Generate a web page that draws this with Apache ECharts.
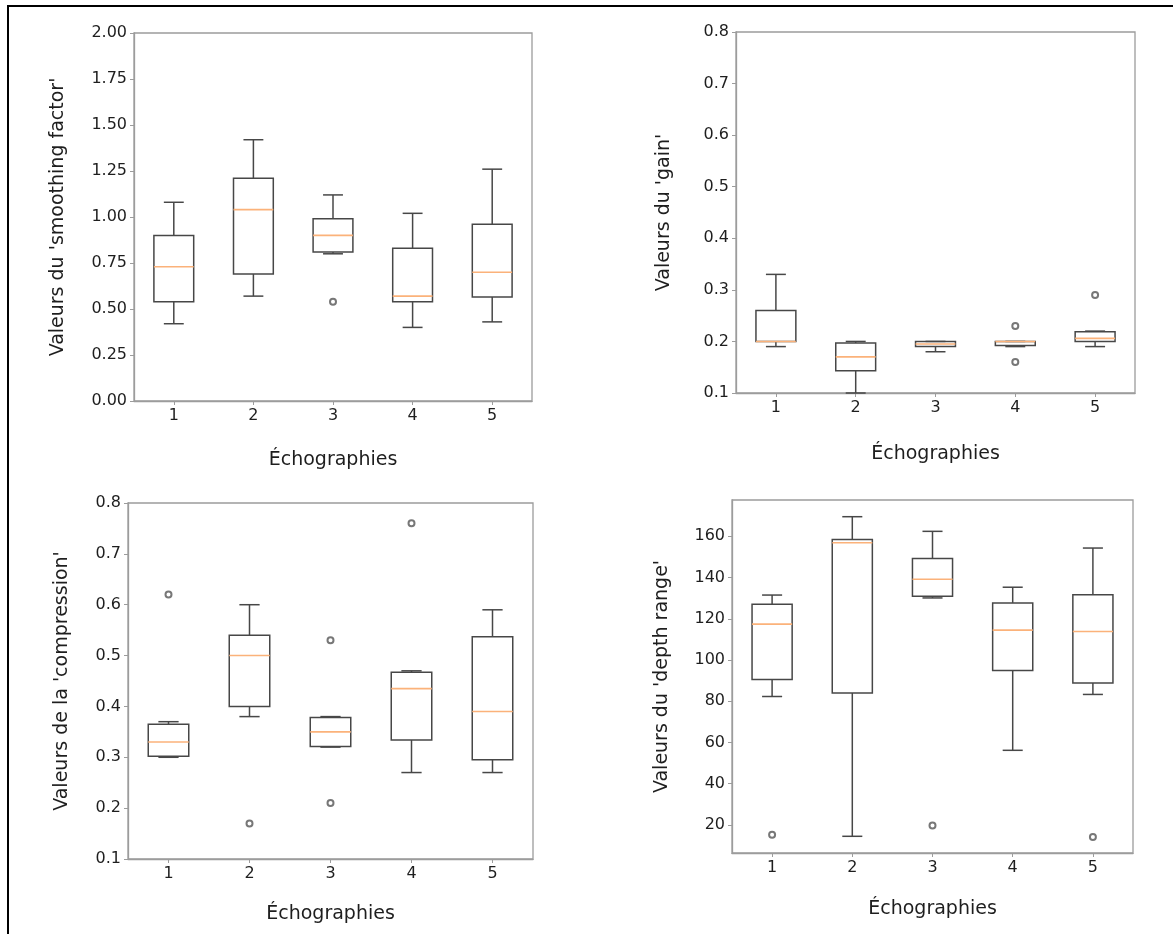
<!DOCTYPE html>
<html>
<head>
<meta charset="utf-8">
<title>Échographies</title>
<script src="https://cdn.jsdelivr.net/npm/echarts@6/dist/echarts.min.js"></script>
<style>
  html, body { margin: 0; padding: 0; background: #fff; overflow: hidden; }
  #frame { position: absolute; left: 7px; top: 5px; width: 1300px; height: 1100px; border: 2px solid #000; }
  #chart { position: absolute; left: 0; top: 0; width: 1173px; height: 934px; }
</style>
</head>
<body>
<div id="frame"></div>
<div id="chart"></div>
<script>
// categories (échographies)
const categories = ['1', '2', '3', '4', '5']

// five-number summaries per box: [whisker low, Q1, median, Q3, whisker high]
const smoothingBoxes = [
  [0.42, 0.54, 0.73, 0.90, 1.08],
  [0.57, 0.69, 1.04, 1.21, 1.42],
  [0.80, 0.81, 0.90, 0.99, 1.12],
  [0.40, 0.54, 0.57, 0.83, 1.02],
  [0.43, 0.565, 0.70, 0.96, 1.26]
]
const smoothingOutliers = [['3', 0.54]]

const gainBoxes = [
  [0.19, 0.20, 0.20, 0.26, 0.33],
  [0.10, 0.143, 0.17, 0.197, 0.20],
  [0.18, 0.19, 0.195, 0.20, 0.20],
  [0.19, 0.192, 0.20, 0.20, 0.20],
  [0.19, 0.20, 0.206, 0.219, 0.22]
]
const gainOutliers = [['4', 0.23], ['4', 0.16], ['5', 0.29]]

const compressionBoxes = [
  [0.30, 0.302, 0.33, 0.365, 0.37],
  [0.38, 0.40, 0.50, 0.54, 0.60],
  [0.32, 0.321, 0.35, 0.378, 0.38],
  [0.27, 0.334, 0.435, 0.467, 0.47],
  [0.27, 0.295, 0.39, 0.537, 0.59]
]
const compressionOutliers = [['1', 0.62], ['2', 0.17], ['3', 0.53], ['3', 0.21], ['4', 0.76]]

const depthBoxes = [
  [82.3, 90.6, 117.4, 127.1, 131.5],
  [14.5, 84.0, 156.9, 158.4, 169.5],
  [130.1, 130.9, 139.2, 149.2, 162.4],
  [56.2, 94.9, 114.5, 127.7, 135.3],
  [83.3, 88.8, 113.8, 131.7, 154.3]
]
const depthOutliers = [['1', 15.3], ['3', 19.7], ['5', 14.2]]

// tick labels
const depthTicks = [20, 40, 60, 80, 100, 120, 140, 160]

const FONT = 'DejaVu Sans'
const TEXT = '#1e1e1e'
const FRAME = '#9c9c9c'
const BOXLINE = '#474747'
const MEDIAN = '#fbb27a'

function renderBox(params, api) {
  const x = api.value(0)
  const low = api.coord([x, api.value(1)])
  const q1 = api.coord([x, api.value(2)])
  const med = api.coord([x, api.value(3)])
  const q3 = api.coord([x, api.value(4)])
  const high = api.coord([x, api.value(5)])
  const half = api.size([1, 0])[0] * 0.25
  const cap = half / 2
  const cx = low[0]
  const lineStyle = { stroke: BOXLINE, lineWidth: 1.5, fill: null }
  const line = (x1, y1, x2, y2, style) => ({
    type: 'line',
    shape: { x1, y1, x2, y2 },
    style: style || lineStyle
  })
  return {
    type: 'group',
    children: [
      line(cx, low[1], cx, q1[1]),
      line(cx, q3[1], cx, high[1]),
      line(cx - cap, low[1], cx + cap, low[1]),
      line(cx - cap, high[1], cx + cap, high[1]),
      {
        type: 'rect',
        shape: { x: cx - half, y: q3[1], width: half * 2, height: q1[1] - q3[1] },
        style: lineStyle
      },
      line(cx - half, med[1], cx + half, med[1], { stroke: MEDIAN, lineWidth: 1.6 })
    ]
  }
}

const panels = [
  { grid: { left: 134, top: 33, width: 398, height: 368 }, name: "Valeurs du 'smoothing factor'",
    yMin: 0, yMax: 2, interval: 0.25, digits: 2, boxes: smoothingBoxes, outliers: smoothingOutliers,
    xGap: 50, yGap: 66 },
  { grid: { left: 736, top: 32, width: 399, height: 361 }, name: "Valeurs du 'gain'",
    yMin: 0.1, yMax: 0.8, interval: 0.1, digits: 1, boxes: gainBoxes, outliers: gainOutliers,
    xGap: 52, yGap: 62 },
  { grid: { left: 128, top: 503, width: 405, height: 356 }, name: "Valeurs de la 'compression'",
    yMin: 0.1, yMax: 0.8, interval: 0.1, digits: 1, boxes: compressionBoxes, outliers: compressionOutliers,
    xGap: 46, yGap: 56 },
  { grid: { left: 732, top: 500, width: 401, height: 353 }, name: "Valeurs du 'depth range'",
    yMin: 6.4, yMax: 177.6, ticks: depthTicks, digits: 0, boxes: depthBoxes, outliers: depthOutliers,
    xGap: 47, yGap: 60 }
]

const chart = echarts.init(document.getElementById('chart'), null, { renderer: 'canvas' })

const option = {
  animation: false,
  textStyle: { fontFamily: FONT },
  grid: panels.map(p => Object.assign({ show: true, borderColor: FRAME, borderWidth: 1.3, backgroundColor: '#fff' }, p.grid)),
  xAxis: panels.map((p, i) => ({
    type: 'category',
    gridIndex: i,
    data: categories,
    boundaryGap: true,
    name: 'Échographies',
    nameLocation: 'middle',
    nameGap: p.xGap,
    nameTextStyle: { fontFamily: FONT, fontSize: 19, color: TEXT },
    axisLine: { show: true, lineStyle: { color: FRAME, width: 1.3 } },
    axisTick: { show: true, alignWithLabel: true, length: 4, lineStyle: { color: FRAME } },
    axisLabel: { fontFamily: FONT, fontSize: 16, color: TEXT, margin: 7 },
    splitLine: { show: false }
  })),
  yAxis: panels.map((p, i) => {
    const ax = {
      type: 'value',
      gridIndex: i,
      min: p.yMin,
      max: p.yMax,
      name: p.name,
      nameLocation: 'middle',
      nameGap: p.yGap,
      nameRotate: 90,
      nameTextStyle: { fontFamily: FONT, fontSize: 19, color: TEXT },
      axisLine: { show: true, lineStyle: { color: FRAME, width: 1.3 } },
      axisTick: { show: true, length: 4, lineStyle: { color: FRAME } },
      axisLabel: {
        fontFamily: FONT, fontSize: 16, color: TEXT, margin: 7,
        showMinLabel: true, showMaxLabel: true,
        formatter: v => v.toFixed(p.digits)
      },
      splitLine: { show: false }
    }
    if (p.ticks) {
      ax.axisLabel.customValues = p.ticks
      ax.axisTick.customValues = p.ticks
    } else {
      ax.interval = p.interval
    }
    return ax
  }),
  series: []
}

panels.forEach((p, i) => {
  option.series.push({
    type: 'custom',
    xAxisIndex: i,
    yAxisIndex: i,
    renderItem: renderBox,
    encode: { x: 0, y: [1, 2, 3, 4, 5] },
    data: p.boxes.map((b, k) => [categories[k]].concat(b)),
    z: 3
  })
  option.series.push({
    type: 'scatter',
    xAxisIndex: i,
    yAxisIndex: i,
    symbol: 'emptyCircle',
    symbolSize: 6,
    itemStyle: { color: '#555', borderColor: '#555', borderWidth: 1.2 },
    data: p.outliers,
    z: 4
  })
})

chart.setOption(option)
</script>
</body>
</html>
